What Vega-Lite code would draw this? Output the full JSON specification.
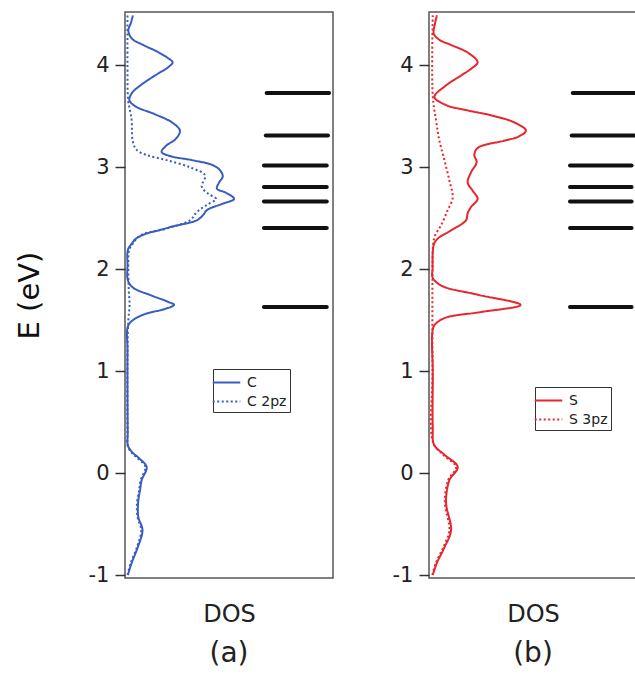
{
  "$schema": "https://vega.github.io/schema/vega-lite/v6.json",
  "padding": {"left": 14, "top": 11, "right": 0, "bottom": 0},
  "background": "white",
  "config": {
    "font": "DejaVu Sans",
    "view": {"stroke": "#555", "strokeWidth": 1.5},
    "axisY": {"labelFontSize": 21, "labelColor": "#222", "tickColor": "#333", "tickSize": 10, "tickWidth": 1.5, "domain": false, "grid": false, "labelPadding": 6, "titleFontSize": 29, "titleFontWeight": "normal", "titleColor": "#111", "titlePadding": 44},
    "axisX": {"labels": false, "ticks": false, "domain": false, "grid": false, "titleFontSize": 24, "titleFontWeight": "normal", "titleColor": "#222", "titlePadding": 24},
    "legend": {"orient": "none", "title": null, "strokeColor": "#333", "padding": 3, "labelFontSize": 14, "labelColor": "#222", "symbolType": "M-1.45,0H1.45", "symbolSize": 361, "symbolStrokeWidth": 2, "rowPadding": 1, "labelOffset": 10},
    "title": {"orient": "bottom", "fontSize": 28, "fontWeight": "normal", "color": "#222", "offset": 14, "anchor": "middle"}
  },
  "datasets": {
    "c": [
      {"s": "C", "E": 4.49, "dos": 0.038}, {"s": "C", "E": 4.42, "dos": 0.029}, {"s": "C", "E": 4.34, "dos": 0.016}, {"s": "C", "E": 4.26, "dos": 0.034},
      {"s": "C", "E": 4.20, "dos": 0.087}, {"s": "C", "E": 4.13, "dos": 0.159}, {"s": "C", "E": 4.07, "dos": 0.207}, {"s": "C", "E": 4.03, "dos": 0.229},
      {"s": "C", "E": 3.98, "dos": 0.207}, {"s": "C", "E": 3.90, "dos": 0.144}, {"s": "C", "E": 3.80, "dos": 0.072}, {"s": "C", "E": 3.73, "dos": 0.034},
      {"s": "C", "E": 3.66, "dos": 0.021}, {"s": "C", "E": 3.60, "dos": 0.048}, {"s": "C", "E": 3.52, "dos": 0.144}, {"s": "C", "E": 3.44, "dos": 0.226},
      {"s": "C", "E": 3.36, "dos": 0.264}, {"s": "C", "E": 3.28, "dos": 0.245}, {"s": "C", "E": 3.21, "dos": 0.197}, {"s": "C", "E": 3.15, "dos": 0.176},
      {"s": "C", "E": 3.11, "dos": 0.216}, {"s": "C", "E": 3.07, "dos": 0.322}, {"s": "C", "E": 3.02, "dos": 0.423}, {"s": "C", "E": 2.97, "dos": 0.457},
      {"s": "C", "E": 2.91, "dos": 0.470}, {"s": "C", "E": 2.85, "dos": 0.452}, {"s": "C", "E": 2.79, "dos": 0.442}, {"s": "C", "E": 2.75, "dos": 0.486},
      {"s": "C", "E": 2.69, "dos": 0.524}, {"s": "C", "E": 2.64, "dos": 0.466}, {"s": "C", "E": 2.58, "dos": 0.394}, {"s": "C", "E": 2.53, "dos": 0.375},
      {"s": "C", "E": 2.48, "dos": 0.345}, {"s": "C", "E": 2.42, "dos": 0.231}, {"s": "C", "E": 2.38, "dos": 0.159}, {"s": "C", "E": 2.35, "dos": 0.104},
      {"s": "C", "E": 2.30, "dos": 0.053}, {"s": "C", "E": 2.25, "dos": 0.032}, {"s": "C", "E": 2.19, "dos": 0.014}, {"s": "C", "E": 2.04, "dos": 0.012},
      {"s": "C", "E": 1.89, "dos": 0.014}, {"s": "C", "E": 1.82, "dos": 0.038}, {"s": "C", "E": 1.74, "dos": 0.130}, {"s": "C", "E": 1.68, "dos": 0.207},
      {"s": "C", "E": 1.65, "dos": 0.236}, {"s": "C", "E": 1.61, "dos": 0.192}, {"s": "C", "E": 1.56, "dos": 0.096}, {"s": "C", "E": 1.50, "dos": 0.038},
      {"s": "C", "E": 1.44, "dos": 0.014}, {"s": "C", "E": 1.20, "dos": 0.012}, {"s": "C", "E": 0.80, "dos": 0.012}, {"s": "C", "E": 0.40, "dos": 0.013},
      {"s": "C", "E": 0.27, "dos": 0.014}, {"s": "C", "E": 0.21, "dos": 0.032}, {"s": "C", "E": 0.15, "dos": 0.065}, {"s": "C", "E": 0.06, "dos": 0.104},
      {"s": "C", "E": -0.07, "dos": 0.080}, {"s": "C", "E": -0.17, "dos": 0.072}, {"s": "C", "E": -0.29, "dos": 0.063}, {"s": "C", "E": -0.43, "dos": 0.064},
      {"s": "C", "E": -0.56, "dos": 0.084}, {"s": "C", "E": -0.73, "dos": 0.061}, {"s": "C", "E": -0.88, "dos": 0.032}, {"s": "C", "E": -1.0, "dos": 0.014},
      {"s": "C 2pz", "E": 4.49, "dos": 0.012}, {"s": "C 2pz", "E": 4.0, "dos": 0.012}, {"s": "C 2pz", "E": 3.66, "dos": 0.015}, {"s": "C 2pz", "E": 3.55, "dos": 0.025},
      {"s": "C 2pz", "E": 3.46, "dos": 0.032}, {"s": "C 2pz", "E": 3.26, "dos": 0.037}, {"s": "C 2pz", "E": 3.17, "dos": 0.056}, {"s": "C 2pz", "E": 3.12, "dos": 0.104},
      {"s": "C 2pz", "E": 3.07, "dos": 0.200}, {"s": "C 2pz", "E": 3.00, "dos": 0.312}, {"s": "C 2pz", "E": 2.92, "dos": 0.385}, {"s": "C 2pz", "E": 2.81, "dos": 0.369},
      {"s": "C 2pz", "E": 2.74, "dos": 0.400}, {"s": "C 2pz", "E": 2.69, "dos": 0.438}, {"s": "C 2pz", "E": 2.63, "dos": 0.393}, {"s": "C 2pz", "E": 2.56, "dos": 0.345},
      {"s": "C 2pz", "E": 2.48, "dos": 0.312}, {"s": "C 2pz", "E": 2.40, "dos": 0.200}, {"s": "C 2pz", "E": 2.33, "dos": 0.072}, {"s": "C 2pz", "E": 2.25, "dos": 0.038},
      {"s": "C 2pz", "E": 2.19, "dos": 0.020}, {"s": "C 2pz", "E": 2.0, "dos": 0.016}, {"s": "C 2pz", "E": 1.8, "dos": 0.018}, {"s": "C 2pz", "E": 1.65, "dos": 0.022},
      {"s": "C 2pz", "E": 1.5, "dos": 0.016}, {"s": "C 2pz", "E": 1.2, "dos": 0.012}, {"s": "C 2pz", "E": 0.4, "dos": 0.012}, {"s": "C 2pz", "E": 0.27, "dos": 0.013},
      {"s": "C 2pz", "E": 0.21, "dos": 0.028}, {"s": "C 2pz", "E": 0.15, "dos": 0.058}, {"s": "C 2pz", "E": 0.06, "dos": 0.098}, {"s": "C 2pz", "E": -0.07, "dos": 0.075},
      {"s": "C 2pz", "E": -0.17, "dos": 0.068}, {"s": "C 2pz", "E": -0.29, "dos": 0.058}, {"s": "C 2pz", "E": -0.43, "dos": 0.060}, {"s": "C 2pz", "E": -0.56, "dos": 0.078},
      {"s": "C 2pz", "E": -0.73, "dos": 0.057}, {"s": "C 2pz", "E": -0.88, "dos": 0.028}, {"s": "C 2pz", "E": -1.0, "dos": 0.012}
    ],
    "s": [
      {"s": "S", "E": 4.49, "dos": 0.038}, {"s": "S", "E": 4.40, "dos": 0.028}, {"s": "S", "E": 4.31, "dos": 0.023}, {"s": "S", "E": 4.25, "dos": 0.050},
      {"s": "S", "E": 4.20, "dos": 0.106}, {"s": "S", "E": 4.12, "dos": 0.190}, {"s": "S", "E": 4.03, "dos": 0.234}, {"s": "S", "E": 3.97, "dos": 0.205},
      {"s": "S", "E": 3.90, "dos": 0.154}, {"s": "S", "E": 3.80, "dos": 0.080}, {"s": "S", "E": 3.69, "dos": 0.026}, {"s": "S", "E": 3.61, "dos": 0.082},
      {"s": "S", "E": 3.56, "dos": 0.180}, {"s": "S", "E": 3.51, "dos": 0.298}, {"s": "S", "E": 3.44, "dos": 0.410}, {"s": "S", "E": 3.36, "dos": 0.466},
      {"s": "S", "E": 3.30, "dos": 0.430}, {"s": "S", "E": 3.26, "dos": 0.360}, {"s": "S", "E": 3.19, "dos": 0.234}, {"s": "S", "E": 3.12, "dos": 0.218},
      {"s": "S", "E": 3.05, "dos": 0.229}, {"s": "S", "E": 2.95, "dos": 0.202}, {"s": "S", "E": 2.85, "dos": 0.186}, {"s": "S", "E": 2.77, "dos": 0.210},
      {"s": "S", "E": 2.69, "dos": 0.234}, {"s": "S", "E": 2.61, "dos": 0.202}, {"s": "S", "E": 2.55, "dos": 0.186}, {"s": "S", "E": 2.48, "dos": 0.178},
      {"s": "S", "E": 2.38, "dos": 0.106}, {"s": "S", "E": 2.30, "dos": 0.042}, {"s": "S", "E": 2.24, "dos": 0.023}, {"s": "S", "E": 2.0, "dos": 0.017},
      {"s": "S", "E": 1.92, "dos": 0.017}, {"s": "S", "E": 1.84, "dos": 0.058}, {"s": "S", "E": 1.75, "dos": 0.234}, {"s": "S", "E": 1.65, "dos": 0.440},
      {"s": "S", "E": 1.58, "dos": 0.250}, {"s": "S", "E": 1.52, "dos": 0.074}, {"s": "S", "E": 1.45, "dos": 0.026}, {"s": "S", "E": 1.38, "dos": 0.016},
      {"s": "S", "E": 1.0, "dos": 0.018}, {"s": "S", "E": 0.45, "dos": 0.018}, {"s": "S", "E": 0.28, "dos": 0.024}, {"s": "S", "E": 0.18, "dos": 0.074},
      {"s": "S", "E": 0.06, "dos": 0.138}, {"s": "S", "E": -0.07, "dos": 0.098}, {"s": "S", "E": -0.29, "dos": 0.082}, {"s": "S", "E": -0.56, "dos": 0.106},
      {"s": "S", "E": -0.73, "dos": 0.074}, {"s": "S", "E": -0.88, "dos": 0.038}, {"s": "S", "E": -1.0, "dos": 0.018},
      {"s": "S 3pz", "E": 4.49, "dos": 0.018}, {"s": "S 3pz", "E": 3.7, "dos": 0.018}, {"s": "S 3pz", "E": 3.46, "dos": 0.034}, {"s": "S 3pz", "E": 3.26, "dos": 0.050},
      {"s": "S 3pz", "E": 3.07, "dos": 0.074}, {"s": "S 3pz", "E": 2.87, "dos": 0.098}, {"s": "S 3pz", "E": 2.70, "dos": 0.114}, {"s": "S 3pz", "E": 2.58, "dos": 0.090},
      {"s": "S 3pz", "E": 2.43, "dos": 0.058}, {"s": "S 3pz", "E": 2.33, "dos": 0.029}, {"s": "S 3pz", "E": 2.24, "dos": 0.020}, {"s": "S 3pz", "E": 2.0, "dos": 0.017},
      {"s": "S 3pz", "E": 1.0, "dos": 0.017}, {"s": "S 3pz", "E": 0.30, "dos": 0.020}, {"s": "S 3pz", "E": 0.18, "dos": 0.068}, {"s": "S 3pz", "E": 0.06, "dos": 0.130},
      {"s": "S 3pz", "E": -0.07, "dos": 0.092}, {"s": "S 3pz", "E": -0.29, "dos": 0.076}, {"s": "S 3pz", "E": -0.56, "dos": 0.098}, {"s": "S 3pz", "E": -0.73, "dos": 0.068},
      {"s": "S 3pz", "E": -0.88, "dos": 0.033}, {"s": "S 3pz", "E": -1.0, "dos": 0.016}
    ],
    "la": [
      {"E": 3.728, "x1": 0.681, "x2": 0.981}, {"E": 3.311, "x1": 0.677, "x2": 0.976}, {"E": 3.017, "x1": 0.668, "x2": 0.970},
      {"E": 2.807, "x1": 0.668, "x2": 0.970}, {"E": 2.664, "x1": 0.668, "x2": 0.970}, {"E": 2.405, "x1": 0.668, "x2": 0.970}, {"E": 1.630, "x1": 0.668, "x2": 0.970}
    ],
    "lb": [
      {"E": 3.728, "x1": 0.691, "x2": 0.990}, {"E": 3.311, "x1": 0.686, "x2": 0.986}, {"E": 3.017, "x1": 0.678, "x2": 0.974},
      {"E": 2.807, "x1": 0.678, "x2": 0.974}, {"E": 2.664, "x1": 0.678, "x2": 0.974}, {"E": 2.405, "x1": 0.678, "x2": 0.974}, {"E": 1.630, "x1": 0.678, "x2": 0.974}
    ]
  },
  "spacing": 57,
  "resolve": {"scale": {"x": "independent", "y": "independent", "color": "independent", "strokeDash": "independent"}, "legend": {"color": "independent", "strokeDash": "independent"}},
  "hconcat": [
    {
      "width": 208,
      "height": 566,
      "title": "(a)",
      "layer": [
        {
          "data": {"name": "c"},
          "mark": {"type": "line", "interpolate": "catmull-rom", "strokeWidth": 2, "clip": true},
          "encoding": {
            "x": {"field": "dos", "type": "quantitative", "scale": {"domain": [0, 1]}, "axis": {"title": "DOS"}},
            "y": {"field": "E", "type": "quantitative", "scale": {"domain": [-1.029, 4.523], "nice": false, "zero": false}, "axis": {"title": "E (eV)", "values": [-1, 0, 1, 2, 3, 4], "labelExpr": "'' + datum.value"}},
            "order": {"field": "E", "type": "quantitative"},
            "color": {"field": "s", "type": "nominal", "scale": {"domain": ["C", "C 2pz"], "range": ["#3a5cc0", "#3a5cc0"]}, "legend": {"legendX": 88, "legendY": 357}},
            "strokeDash": {"field": "s", "type": "nominal", "scale": {"domain": ["C", "C 2pz"], "range": [[1, 0], [2, 2.5]]}, "legend": {"legendX": 88, "legendY": 357}}
          }
        },
        {
          "data": {"name": "la"},
          "mark": {"type": "rule", "strokeWidth": 4, "color": "#111", "strokeCap": "round"},
          "encoding": {
            "x": {"field": "x1", "type": "quantitative"},
            "x2": {"field": "x2"},
            "y": {"field": "E", "type": "quantitative"}
          }
        }
      ]
    },
    {
      "width": 208,
      "height": 566,
      "title": "(b)",
      "layer": [
        {
          "data": {"name": "s"},
          "mark": {"type": "line", "interpolate": "catmull-rom", "strokeWidth": 2, "clip": true},
          "encoding": {
            "x": {"field": "dos", "type": "quantitative", "scale": {"domain": [0, 1]}, "axis": {"title": "DOS"}},
            "y": {"field": "E", "type": "quantitative", "scale": {"domain": [-1.029, 4.523], "nice": false, "zero": false}, "axis": {"title": null, "values": [-1, 0, 1, 2, 3, 4], "labelExpr": "'' + datum.value"}},
            "order": {"field": "E", "type": "quantitative"},
            "color": {"field": "s", "type": "nominal", "scale": {"domain": ["S", "S 3pz"], "range": ["#e8262d", "#e8262d"]}, "legend": {"legendX": 106, "legendY": 375}},
            "strokeDash": {"field": "s", "type": "nominal", "scale": {"domain": ["S", "S 3pz"], "range": [[1, 0], [2, 2.5]]}, "legend": {"legendX": 106, "legendY": 375}}
          }
        },
        {
          "data": {"name": "lb"},
          "mark": {"type": "rule", "strokeWidth": 4, "color": "#111", "strokeCap": "round"},
          "encoding": {
            "x": {"field": "x1", "type": "quantitative"},
            "x2": {"field": "x2"},
            "y": {"field": "E", "type": "quantitative"}
          }
        }
      ]
    }
  ]
}
